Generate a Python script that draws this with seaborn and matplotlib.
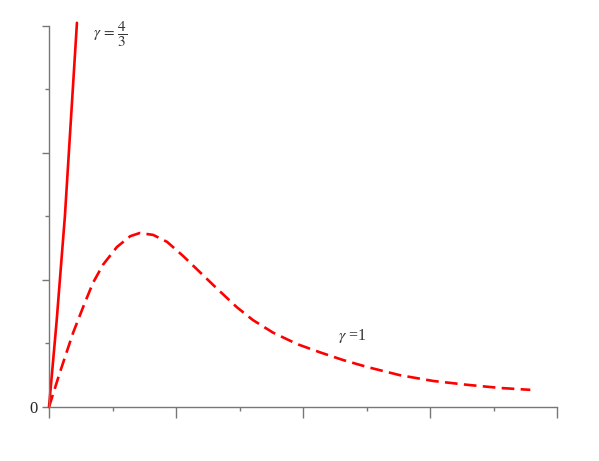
import numpy as np
import pandas as pd
import matplotlib
matplotlib.use("Agg")
import matplotlib.pyplot as plt
import seaborn as sns

# values (x and y in tick units)
x_gamma1 = [0.0, 0.17, 0.38, 0.54, 0.69, 0.85, 1.07, 1.28, 1.43, 1.64, 1.86,
            2.11, 2.38, 2.65, 2.96, 3.21, 3.53, 3.91, 4.27, 4.63, 5.01, 5.53,
            6.05, 6.58, 7.10, 7.58]
y_gamma1 = [0.0, 0.54, 1.17, 1.58, 1.95, 2.24, 2.52, 2.69, 2.74, 2.71, 2.60,
            2.38, 2.12, 1.86, 1.57, 1.37, 1.17, 0.99, 0.86, 0.74, 0.63, 0.50,
            0.41, 0.35, 0.30, 0.27]
x_gamma43 = [0.0, 0.12, 0.25, 0.44]
y_gamma43 = [0.0, 1.35, 3.0, 6.05]

df1 = pd.DataFrame({"x": x_gamma1, "y": y_gamma1})
df2 = pd.DataFrame({"x": x_gamma43, "y": y_gamma43})

sns.set_style("white")
plt.rcParams["font.family"] = ["Liberation Serif", "DejaVu Serif"]
plt.rcParams["mathtext.fontset"] = "stix"

fig = plt.figure(figsize=(5.99, 4.61), dpi=100)
ax = fig.add_axes([49 / 599, 54 / 461, 508 / 599, (407 - 22.8) / 461])

sns.lineplot(data=df2, x="x", y="y", ax=ax, color="#ff0000", linewidth=1.9,
             clip_on=False)
sns.lineplot(data=df1, x="x", y="y", ax=ax, color="#ff0000", linewidth=1.9,
             linestyle=(0, (4.8, 2.4)))

ax.set_xlim(0, 8)
ax.set_ylim(0, 6.05)
ax.set_xlabel("")
ax.set_ylabel("")

gray = "#777777"
for side in ["top", "right"]:
    ax.spines[side].set_visible(False)
for side in ["left", "bottom"]:
    ax.spines[side].set_color(gray)
    ax.spines[side].set_linewidth(1.0)
ax.spines["left"].set_bounds(0, 6)

ax.set_xticks([0, 2, 4, 6, 8])
ax.set_xticks([1, 3, 5, 7], minor=True)
ax.set_xticklabels([])
ax.set_yticks([0, 2, 4, 6])
ax.set_yticks([1, 3, 5], minor=True)
ax.set_yticklabels(["0", "", "", ""])
ax.tick_params(axis="x", which="major", length=8, width=1, color=gray)
ax.tick_params(axis="x", which="minor", length=3, width=1, color=gray)
ax.tick_params(axis="y", which="major", length=5, width=1, color=gray,
               labelsize=12, pad=3)
ax.tick_params(axis="y", which="minor", length=3, width=1, color=gray)
ax.tick_params(axis="both", direction="out", left=True, bottom=True, which="both")

ax.text(0.96, 5.86, r"$\gamma\,=\,\dfrac{4}{3}$", fontsize=11, color="#333333",
        ha="center", va="center")
ax.text(4.77, 1.12, r"$\gamma$ =1", fontsize=11.5, color="#333333",
        ha="center", va="center")

fig.savefig("out.png", dpi=100)
